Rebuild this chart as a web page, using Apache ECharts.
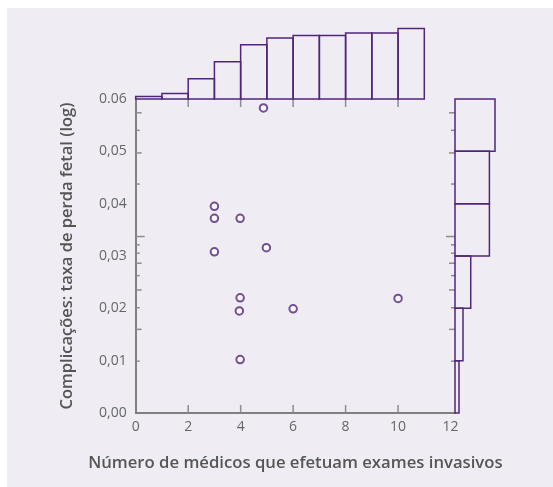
<!DOCTYPE html>
<html>
<head>
<meta charset="utf-8">
<script src="https://cdn.jsdelivr.net/npm/echarts@6/dist/echarts.min.js"></script>
<style>
html,body{margin:0;padding:0;background:#ffffff;}
#panel{position:absolute;left:7px;top:8px;right:0;bottom:0;background:#efedf3;}
#chart{position:absolute;left:0;top:0;width:553px;height:487px;}
</style>
</head>
<body>
<div id="panel"></div>
<div id="chart"></div>
<script>
// ---- data ----
var pointsX = [4.87, 3.0, 3.0, 3.98, 3.0, 4.98, 3.98, 3.95, 6.0, 3.98, 10.0];
var pointsY = [0.0583, 0.0395, 0.0372, 0.0372, 0.0308, 0.0316, 0.0220, 0.0195, 0.0199, 0.0102, 0.0219];
// top histogram: bins of width 1 starting at 0
var topBinStarts = [0, 1, 2, 3, 4, 5, 6, 7, 8, 9, 10];
var topValues = [0.9, 1.95, 7.15, 13.2, 19.2, 21.6, 22.5, 22.5, 23.4, 23.4, 25];
// right histogram: bins of width 0.01 starting at 0
var rightBinStarts = [0.00, 0.01, 0.02, 0.03, 0.04, 0.05];
var rightValues = [1.5, 3.0, 5.9, 12.9, 12.9, 15];
var xTickLabels = ['0', '2', '4', '6', '8', '10', '12'];
var yTickLabels = ['0,00', '0,01', '0,02', '0,03', '0,04', '0,05', '0.06'];
var yMinorTicks = [0.05736, 0.05402, 0.04969, 0.04375, 0.03372, 0.03213, 0.03054, 0.02862, 0.02625, 0.02351, 0.02011, 0.01598, 0.0099];
var xMinorTicks = [2, 4, 6, 8, 10];
var xTitle = 'Número de médicos que efetuam exames invasivos';
var yTitle = 'Complicações: taxa de perda fetal (log)';

// ---- styling ----
var yTickLen = [6, 4, 6, 4, 9, 4, 4, 6, 4, 6, 4, 6, 4];
var PURPLE = '#51257a';
var AXIS = '#7a7a7a';
var TICK = '#8c8c8c';
var FONT = 'Open Sans';
var XMAX = 12.17;

var scatterData = pointsX.map(function (x, i) { return [x, pointsY[i]]; });
var topData = topBinStarts.map(function (s, i) { return [s, s + 1, topValues[i]]; });
var rightData = rightBinStarts.map(function (s, i) { return [s, s + 0.01, rightValues[i]]; });
var yTickData = yMinorTicks.map(function (v, i) { return [v, yTickLen[i]]; });
var xTickData = xMinorTicks.map(function (v) { return [v]; });

var chart = echarts.init(document.getElementById('chart'), null, {renderer: 'canvas'});

var option = {
  backgroundColor: 'transparent',
  animation: false,
  grid: [
    {left: 135.7, top: 99, width: 319.3, height: 314},
    {left: 135.7, top: 28.5, width: 319.3, height: 70.5},
    {left: 455, top: 99, width: 40, height: 314}
  ],
  xAxis: [
    {gridIndex: 0, type: 'value', min: 0, max: XMAX, interval: 2, position: 'bottom',
      name: xTitle, nameLocation: 'middle', nameGap: 42,
      nameTextStyle: {fontFamily: FONT, fontSize: 16.7, fontWeight: 600, color: '#555555'},
      axisLine: {show: true, lineStyle: {color: AXIS, width: 1.5}},
      axisTick: {show: false}, splitLine: {show: false},
      axisLabel: {fontFamily: FONT, fontSize: 14, color: '#666666', margin: 7,
        formatter: function (v) { var i = Math.round(v / 2); return xTickLabels[i] !== undefined ? xTickLabels[i] : ''; }}},
    {gridIndex: 0, type: 'value', min: 0, max: XMAX, position: 'top',
      axisLine: {show: true, lineStyle: {color: AXIS, width: 1.5}},
      axisTick: {show: false}, axisLabel: {show: false}, splitLine: {show: false}},
    {gridIndex: 1, type: 'value', min: 0, max: XMAX, show: false},
    {gridIndex: 2, type: 'value', min: 0, max: 15, show: false}
  ],
  yAxis: [
    {gridIndex: 0, type: 'value', min: 0, max: 0.06, interval: 0.01, position: 'left',
      name: yTitle, nameLocation: 'middle', nameGap: 60, nameRotate: 90,
      nameTextStyle: {fontFamily: FONT, fontSize: 16.5, fontWeight: 600, color: '#555555'},
      axisLine: {show: true, lineStyle: {color: AXIS, width: 1.5}},
      axisTick: {show: false}, splitLine: {show: false},
      axisLabel: {fontFamily: FONT, fontSize: 14, color: '#666666', margin: 9,
        formatter: function (v) { return yTickLabels[Math.round(v / 0.01)]; }}},
    {gridIndex: 0, type: 'value', min: 0, max: 0.06, position: 'right',
      axisLine: {show: true, lineStyle: {color: AXIS, width: 1.5}},
      axisTick: {show: false}, axisLabel: {show: false}, splitLine: {show: false}},
    {gridIndex: 1, type: 'value', min: 0, max: 25, show: false},
    {gridIndex: 2, type: 'value', min: 0, max: 0.06, show: false}
  ],
  series: [
    {type: 'custom', xAxisIndex: 0, yAxisIndex: 0, clip: false, z: 3,
      data: yTickData,
      renderItem: function (params, api) {
        var v = api.value(0), len = api.value(1);
        var pl = api.coord([0, v]);
        var pr = api.coord([XMAX, v]);
        return {type: 'group', children: [
          {type: 'line', shape: {x1: pl[0], y1: pl[1], x2: pl[0] + len, y2: pl[1]}, style: {stroke: TICK, lineWidth: 1.5}},
          {type: 'line', shape: {x1: pr[0], y1: pr[1], x2: pr[0] - len, y2: pr[1]}, style: {stroke: TICK, lineWidth: 1.5}}
        ]};
      }},
    {type: 'custom', xAxisIndex: 0, yAxisIndex: 0, clip: false, z: 3,
      data: xTickData,
      renderItem: function (params, api) {
        var v = api.value(0);
        var pb = api.coord([v, 0]);
        var pt = api.coord([v, 0.06]);
        return {type: 'group', children: [
          {type: 'line', shape: {x1: pb[0], y1: pb[1], x2: pb[0], y2: pb[1] - 8}, style: {stroke: TICK, lineWidth: 1.5}},
          {type: 'line', shape: {x1: pt[0], y1: pt[1], x2: pt[0], y2: pt[1] + 8}, style: {stroke: TICK, lineWidth: 1.5}}
        ]};
      }},
    {type: 'scatter', xAxisIndex: 0, yAxisIndex: 0, data: scatterData, z: 4,
      symbol: 'emptyCircle', symbolSize: 7.5,
      itemStyle: {color: PURPLE, borderColor: PURPLE, borderWidth: 1.5}},
    {type: 'custom', xAxisIndex: 2, yAxisIndex: 2, clip: false, z: 5,
      data: topData,
      renderItem: function (params, api) {
        var p0 = api.coord([api.value(0), 0]);
        var p1 = api.coord([api.value(1), api.value(2)]);
        return {type: 'rect', shape: {x: p0[0], y: p1[1], width: p1[0] - p0[0], height: p0[1] - p1[1]},
          style: {fill: 'none', stroke: PURPLE, lineWidth: 1.5}};
      }},
    {type: 'custom', xAxisIndex: 3, yAxisIndex: 3, clip: false, z: 5,
      data: rightData,
      renderItem: function (params, api) {
        var p0 = api.coord([0, api.value(0)]);
        var p1 = api.coord([api.value(2), api.value(1)]);
        return {type: 'rect', shape: {x: p0[0], y: p1[1], width: p1[0] - p0[0], height: p0[1] - p1[1]},
          style: {fill: 'none', stroke: PURPLE, lineWidth: 1.5}};
      }}
  ]
};
chart.setOption(option);
</script>
</body>
</html>
